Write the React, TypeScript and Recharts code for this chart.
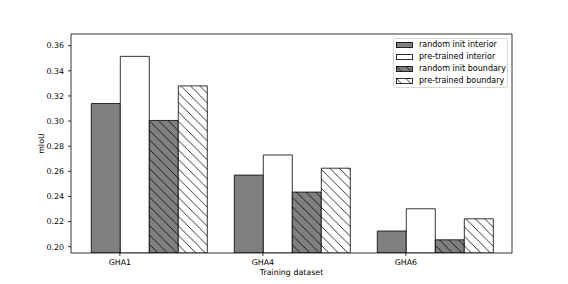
import { BarChart, Bar, XAxis, YAxis, Legend } from 'recharts';

const categories = ['GHA1', 'GHA4', 'GHA6'];
const randomInitInterior = [0.314, 0.257, 0.2125];
const pretrainedInterior = [0.3515, 0.273, 0.2302];
const randomInitBoundary = [0.3005, 0.2435, 0.2055];
const pretrainedBoundary = [0.328, 0.2625, 0.2222];
const yTicks = [0.2, 0.22, 0.24, 0.26, 0.28, 0.3, 0.32, 0.34, 0.36];

const FONT = '"DejaVu Sans", sans-serif';
const FS = 7.9;
const GREY = '#808080';

const series = [
  { key: 'randomInitInterior', name: 'random init interior', fill: GREY },
  { key: 'pretrainedInterior', name: 'pre-trained interior', fill: '#ffffff' },
  { key: 'randomInitBoundary', name: 'random init boundary', fill: 'url(#hatchGrey)' },
  { key: 'pretrainedBoundary', name: 'pre-trained boundary', fill: 'url(#hatchWhite)' },
];

const data = categories.map((name, i) => ({
  name,
  randomInitInterior: randomInitInterior[i],
  pretrainedInterior: pretrainedInterior[i],
  randomInitBoundary: randomInitBoundary[i],
  pretrainedBoundary: pretrainedBoundary[i],
}));

// ticks sit on the left edge of the 2nd bar, not on the group centre
const TICK_SHIFT = 28.6;

const XTick = (props: any) => {
  const { x, y, payload } = props;
  const tx = x - TICK_SHIFT;
  return (
    <g>
      <line x1={tx} y1={y} x2={tx} y2={y + 3} stroke="#000" strokeWidth={0.8} />
      <text x={tx} y={y + 12} textAnchor="middle" fontFamily={FONT} fontSize={FS} fill="#000">
        {payload.value}
      </text>
    </g>
  );
};

const LegendBox = () => (
  <div
    style={{
      width: 115,
      boxSizing: 'border-box',
      border: '1px solid #d6d6d6',
      borderRadius: 2.5,
      background: '#fff',
      padding: '0 2px 0.5px 2px',
      fontFamily: FONT,
      fontSize: 8,
      color: '#000',
    }}
  >
    {series.map(s => (
      <div key={s.key} style={{ display: 'flex', alignItems: 'center', height: 11.9, whiteSpace: 'nowrap' }}>
        <svg width={17} height={6} style={{ marginRight: 6, flexShrink: 0 }}>
          <rect x={0.4} y={0.4} width={16} height={5.2} fill={s.fill} stroke="#000" strokeWidth={0.8} />
        </svg>
        <span>{s.name}</span>
      </div>
    ))}
  </div>
);

export default function App() {
  return (
    <div style={{ position: 'absolute', left: 0, top: 0, background: '#fff' }}>
      <BarChart
        width={568}
        height={284}
        data={data}
        margin={{ top: 33, right: 55, left: 0, bottom: 0 }}
        barCategoryGap="10%"
        barGap={0}
      >
        <defs>
          <pattern id="hatchGrey" patternUnits="userSpaceOnUse" width={9.5} height={9.5}>
            <rect width={9.5} height={9.5} fill={GREY} />
            <path d="M0,0 L9.5,9.5 M-2,7.5 L2,11.5 M7.5,-2 L11.5,2" stroke="#000" strokeWidth={0.8} />
          </pattern>
          <pattern id="hatchWhite" patternUnits="userSpaceOnUse" width={9.5} height={9.5}>
            <rect width={9.5} height={9.5} fill="#fff" />
            <path d="M0,0 L9.5,9.5 M-2,7.5 L2,11.5 M7.5,-2 L11.5,2" stroke="#000" strokeWidth={0.8} />
          </pattern>
        </defs>
        <XAxis
          dataKey="name"
          height={31}
          padding={{ left: 6, right: 6 }}
          tickLine={false}
          tickSize={0}
          tickMargin={0}
          tick={<XTick />}
          axisLine={{ stroke: '#000', strokeWidth: 0.8 }}
          label={{
            content: () => (
              <text x={291.5} y={274.5} textAnchor="middle" fontFamily={FONT} fontSize={FS} fill="#000">
                Training dataset
              </text>
            ),
          }}
        />
        <XAxis xAxisId="top" orientation="top" dataKey="name" height={1} tick={false} tickLine={false}
          axisLine={{ stroke: '#000', strokeWidth: 0.8 }} />
        <YAxis
          width={71}
          domain={[0.195, 0.3693]}
          allowDataOverflow
          ticks={yTicks}
          tickFormatter={(v: number) => v.toFixed(2)}
          tickSize={3}
          tickMargin={4}
          tick={{ fontFamily: FONT, fontSize: FS, fill: '#000' }}
          tickLine={{ stroke: '#000', strokeWidth: 0.8 }}
          axisLine={{ stroke: '#000', strokeWidth: 0.8 }}
          label={{
            content: () => (
              <text x={43.5} y={143.5} transform="rotate(-90 43.5 143.5)" textAnchor="middle"
                fontFamily={FONT} fontSize={FS} fill="#000">
                mIoU
              </text>
            ),
          }}
        />
        <YAxis yAxisId="right" orientation="right" width={1} tick={false} tickLine={false}
          axisLine={{ stroke: '#000', strokeWidth: 0.8 }} />
        <Legend
          layout="vertical"
          align="center"
          verticalAlign="middle"
          content={<LegendBox />}
          wrapperStyle={{ left: 393, top: 38, width: 115 }}
        />
        {series.map(s => (
          <Bar key={s.key} dataKey={s.key} name={s.name} fill={s.fill} stroke="#000" strokeWidth={0.8}
            isAnimationActive={false} />
        ))}
      </BarChart>
    </div>
  );
}
